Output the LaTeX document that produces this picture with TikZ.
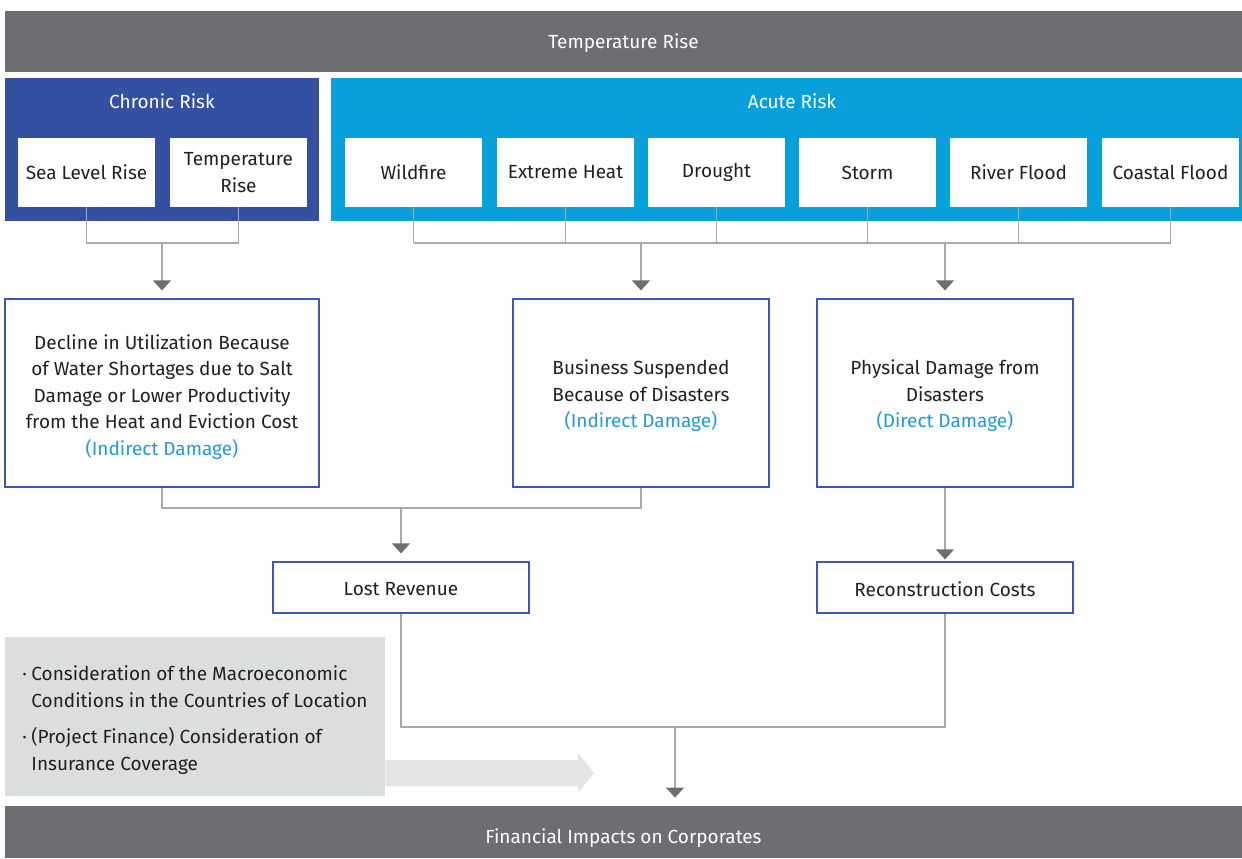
\documentclass[tikz,border=0pt]{standalone}
\usepackage{fontspec}
\setmainfont{Fira Sans}
\usetikzlibrary{arrows.meta}
\definecolor{bargray}{HTML}{6D6E71}
\definecolor{chronicblue}{HTML}{3450A2}
\definecolor{acuteblue}{HTML}{08A0DB}
\definecolor{boxblue}{HTML}{3D5AA8}
\definecolor{linegray}{HTML}{A7A9AC}
\definecolor{cyantext}{HTML}{1E9BD7}
\definecolor{notegray}{HTML}{DCDDDF}
\definecolor{arrowpale}{HTML}{E3E4E5}
\definecolor{textdark}{HTML}{231F20}
\newcommand{\notebullet}{\makebox[4.5pt][l]{·}}
\newcommand{\lowered}[1]{\raisebox{-#1}[\height][\depth]}
\begin{document}
\begin{tikzpicture}[x=0.5pt, y=-0.5pt, font=\fontsize{9.5}{13.25}\selectfont, text=textdark,
    bar/.style={fill=bargray, text=white, minimum width=618.5pt, minimum height=#1, inner sep=0pt},
    group/.style={minimum height=71.5pt, inner sep=0pt},
    grouptitle/.style={text=white, inner sep=0pt},
    hazard/.style={fill=white, minimum width=68.5pt, minimum height=34.5pt, inner sep=0pt, align=center},
    impact/.style={draw=boxblue, line width=0.6pt, fill=white, minimum height=#1, inner sep=0pt, align=center},
    link/.style={draw=linegray, line width=0.75pt},
    arrowlink/.style={link, -{Triangle[width=9pt, length=5pt, color=bargray]}, shorten >=4pt}]
    \useasboundingbox (0,0) rectangle (1242,858);
    % top and bottom bars
    \node[bar=30.5pt] (topbar) at (623.5,41.5) {\lowered{1pt}{Temperature Rise}};
    \node[bar=26pt] (finalbar) at (623.5,832) {\lowered{3pt}{Financial Impacts on Corporates}};
    % risk groups
    \node[group, fill=chronicblue, minimum width=157pt] (chronic) at (162,149.5) {};
    \node[group, fill=acuteblue, minimum width=455.5pt] (acute) at (786.5,149.5) {};
    \node[grouptitle] (chronictitle) at (162,101) {Chronic Risk};
    \node[grouptitle] (acutetitle) at (792,101) {Acute Risk};
    % hazards
    \foreach \n/\x/\t in {slr/86.5/Sea Level Rise, tempr/238.5/{Temperature\\Rise}}
        \node[hazard] (\n) at (\x,172.5) {\t};
    \foreach \n/\x/\t in {wildfire/413.5/Wildfire, heat/565.5/Extreme Heat, drought/716.5/Drought,
        storm/867.5/Storm, river/1018.5/River Flood, coastal/1170.5/Coastal Flood}
        \node[hazard] (\n) at (\x,172.5) {\t};
    % damage boxes
    \node[impact=94pt, minimum width=157pt] (decline) at (162,393) {\lowered{2pt}{\begin{tabular}{@{}c@{}}Decline in Utilization Because\\of Water Shortages due to Salt\\Damage or Lower Productivity\\from the Heat and Eviction Cost\\{\color{cyantext}(Indirect Damage)}\end{tabular}}};
    \node[impact=94pt, minimum width=128pt] (suspend) at (641,393) {\lowered{1.5pt}{\begin{tabular}{@{}c@{}}Business Suspended\\Because of Disasters\\{\color{cyantext}(Indirect Damage)}\end{tabular}}};
    \node[impact=94pt, minimum width=128pt] (damage) at (945,393) {\lowered{1.5pt}{\begin{tabular}{@{}c@{}}Physical Damage from\\Disasters\\{\color{cyantext}(Direct Damage)}\end{tabular}}};
    % costs
    \node[impact=25.5pt, minimum width=128pt] (lost) at (401,587.5) {\lowered{1pt}{Lost Revenue}};
    \node[impact=25.5pt, minimum width=128pt] (recon) at (945,587.5) {\lowered{1pt}{Reconstruction Costs}};
    % hazards to damage
    \coordinate (chronicjoin) at (162,243);
    \coordinate (acutebus) at (0,243);
    \draw[link] (slr.south) |- (chronicjoin) -| (tempr.south);
    \draw[link] (wildfire.south |- acutebus) -- (coastal.south |- acutebus);
    \foreach \n in {wildfire,heat,drought,storm,river,coastal}
        \draw[link] (\n.south) -- (\n.south |- acutebus);
    \draw[arrowlink] (chronicjoin) -- (decline.north);
    \draw[arrowlink] (suspend.north |- acutebus) -- (suspend.north);
    \draw[arrowlink] (damage.north |- acutebus) -- (damage.north);
    % damage to costs
    \coordinate (lossjoin) at (401,508);
    \draw[link] (decline.south) |- (lossjoin) -| (suspend.south);
    \draw[arrowlink] (lossjoin) -- (lost.north);
    \draw[arrowlink, shorten >=1pt] (damage.south) -- (recon.north);
    % costs to impacts
    \coordinate (finaljoin) at (675,727);
    \draw[link] (lost.south) |- (finaljoin) -| (recon.south);
    \draw[arrowlink] (finaljoin) -- (finaljoin |- finalbar.north);
    % note with broad arrow
    \node[fill=notegray, minimum width=190pt, minimum height=79.5pt, inner sep=0pt] (note) at (195,716.5) {};
    \node[anchor=west, align=left, inner sep=0pt] (notetext) at (22,720)
        {\notebullet Consideration of the Macroeconomic\\\hspace*{4.5pt}Conditions in the Countries of Location\\[5pt]\notebullet(Project Finance) Consideration of\\\hspace*{4.5pt}Insurance Coverage};
    \fill[arrowpale] (note.east |- 0,760) -- (578,760) -- (578,753) -- (594,773) -- (578,793) -- (578,786) -- (note.east |- 0,786) -- cycle;
\end{tikzpicture}
\end{document}
